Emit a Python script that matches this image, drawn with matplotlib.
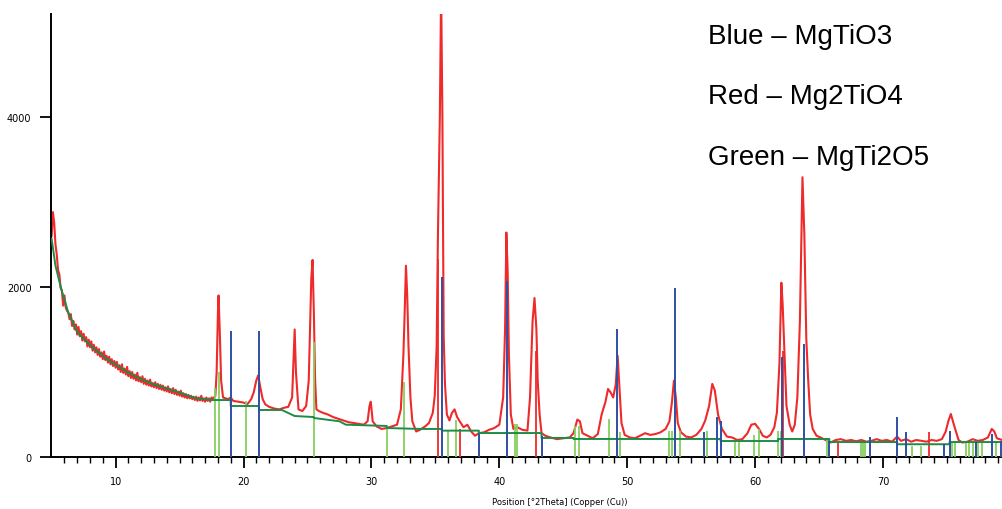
import matplotlib
matplotlib.use("Agg")
import matplotlib.pyplot as plt
import numpy as np

# zmierzony dyfraktogram (czerwony), czesc niskokatowa co 0.1 stopnia
low_x = np.round(np.arange(5.0, 17.75, 0.1), 1)
low_y = [2600, 2880, 2750, 2500, 2380, 2200, 2150, 1990, 1960, 1780,
         1900, 1760, 1720, 1700, 1620, 1680, 1540, 1600, 1500, 1560,
         1440, 1530, 1420, 1480, 1370, 1450, 1360, 1410, 1300, 1380,
         1290, 1360, 1250, 1320, 1230, 1290, 1200, 1270, 1180, 1230,
         1150, 1240, 1140, 1190, 1110, 1180, 1090, 1150, 1070, 1130,
         1050, 1120, 1030, 1080, 1000, 1090, 990, 1040, 970, 1060,
         950, 1010, 930, 1000, 920, 970, 900, 990, 890, 940,
         880, 950, 860, 920, 850, 900, 840, 910, 830, 870,
         820, 880, 810, 860, 800, 850, 790, 840, 780, 820,
         770, 830, 760, 800, 750, 810, 740, 790, 730, 770,
         720, 780, 710, 750, 700, 740, 690, 730, 690, 720,
         680, 710, 670, 710, 660, 700, 665, 720, 660, 690,
         650, 700, 660, 690, 650, 700, 680, 700]

high_x = [17.8, 17.9, 18.0, 18.05, 18.15, 18.25, 18.4, 18.6, 18.8, 19.0, 19.2, 19.6, 20.0,
          20.3, 20.6, 20.8, 21.0, 21.15, 21.3, 21.5, 21.7, 22.0, 22.4, 22.8, 23.2, 23.5, 23.8, 23.9,
          24.0, 24.1, 24.3, 24.6, 24.9, 25.1, 25.2, 25.3, 25.4, 25.5, 25.6, 25.7, 25.9, 26.2, 26.6,
          27.0, 27.4, 27.8, 28.2, 28.6, 29.0, 29.4, 29.7, 29.85, 29.95, 30.1, 30.4, 30.8, 31.2, 31.6,
          32.0, 32.3, 32.5, 32.6, 32.7, 32.8, 32.9, 33.05, 33.2, 33.5, 33.8, 34.2, 34.5, 34.8, 34.95,
          35.1, 35.2, 35.35, 35.45, 35.55, 35.65, 35.75, 35.9, 36.1, 36.3, 36.5, 36.7, 36.9, 37.2,
          37.5, 37.8, 38.1, 38.4, 38.8, 39.2, 39.6, 40.0, 40.3, 40.45, 40.55, 40.65, 40.75, 40.9,
          41.1, 41.4, 41.8, 42.2, 42.4, 42.6, 42.75, 42.9, 43.0, 43.15, 43.3, 43.6, 44.0, 44.5, 45.0,
          45.5, 45.8, 46.1, 46.3, 46.5, 46.9, 47.3, 47.7, 48.0, 48.3, 48.5, 48.7, 48.9, 49.1, 49.25,
          49.4, 49.55, 49.8, 50.2, 50.6, 51.0, 51.4, 51.8, 52.2, 52.6, 53.0, 53.3, 53.5, 53.65, 53.8,
          53.95, 54.2, 54.6, 55.0, 55.4, 55.8, 56.1, 56.4, 56.65, 56.85, 57.1, 57.4, 57.8, 58.2, 58.6,
          59.0, 59.4, 59.7, 60.0, 60.3, 60.6, 60.9, 61.2, 61.5, 61.7, 61.9, 62.05, 62.15, 62.3, 62.45,
          62.7, 62.9, 63.1, 63.3, 63.5, 63.7, 63.85, 64.0, 64.15, 64.3, 64.5, 64.8, 65.1, 65.5, 65.9,
          66.3, 66.7, 67.1, 67.5, 67.9, 68.3, 68.7, 69.1, 69.5, 69.9, 70.3, 70.7, 71.1, 71.4, 71.8,
          72.2, 72.6, 73.0, 73.4, 73.8, 74.2, 74.6, 74.9, 75.1, 75.3, 75.5, 75.7, 75.9, 76.2, 76.6,
          77.0, 77.4, 77.8, 78.2, 78.5, 78.7, 78.9, 79.3]
high_y = [720, 1000, 1700, 1900, 1450, 900, 700, 690, 680, 700, 660, 650, 640,
          620, 680, 760, 900, 960, 830, 680, 620, 590, 570, 560, 580, 590, 700, 1100,
          1500, 1000, 560, 540, 600, 900, 1500, 2100, 2318, 1700, 900, 560, 540, 520, 500,
          470, 450, 430, 410, 400, 390, 380, 420, 600, 650, 420, 360, 330, 340, 360,
          380, 560, 1200, 1700, 2250, 1900, 1300, 700, 420, 300, 320, 360, 400, 520, 720,
          1300, 2600, 4000, 5500, 4000, 1430, 860, 500, 430, 520, 560, 470, 420, 350,
          380, 300, 250, 280, 290, 320, 340, 380, 700, 1500, 2640, 2200, 1200, 500,
          330, 350, 320, 310, 700, 1600, 1870, 1500, 900, 500, 280, 250, 230, 210, 220,
          230, 280, 440, 420, 280, 250, 220, 270, 500, 650, 800, 760, 700, 850, 1190,
          800, 400, 260, 230, 220, 250, 280, 260, 270, 290, 330, 420, 650, 898, 700,
          400, 290, 240, 230, 260, 330, 430, 600, 860, 780, 500, 330, 240, 230, 200,
          210, 280, 380, 390, 330, 250, 230, 260, 350, 520, 1100, 2050, 1800, 1200, 600,
          380, 300, 380, 700, 1600, 3290, 2600, 1390, 900, 500, 330, 250, 230, 200, 170,
          200, 210, 190, 200, 185, 200, 180, 190, 210, 190, 200, 180, 240, 190, 210,
          180, 200, 190, 180, 200, 190, 210, 300, 420, 506, 400, 300, 200, 170, 180,
          210, 190, 200, 230, 330, 300, 220, 200]

# tlo (ciemnozielona linia)
bg_x = [5.0, 5.3, 5.75, 6.3, 7.0, 7.7, 8.35, 9.0, 9.66, 10.3, 10.9, 11.6, 12.3, 13.0, 13.6, 14.3,
        14.9, 15.6, 16.2, 17.0, 17.5, 19.0, 19.0, 21.2, 21.2, 23.0, 24.0, 25.5, 25.5, 27.5, 28.0,
        31.2, 31.2, 33.8, 35.5, 35.5, 38.4, 38.4, 43.3, 43.3, 45.8, 45.8, 57.3, 57.3, 61.8, 61.8,
        65.8, 65.8, 71.1, 71.1, 75.2, 75.2, 79.3]
bg_y = [2565, 2250, 1976, 1700, 1470, 1360, 1270, 1190, 1118, 1060, 1000, 945, 894, 855, 824, 790,
        765, 725, 694, 680, 670, 670, 600, 600, 553, 553, 482, 470, 459, 420, 380,
        365, 341, 330, 330, 310, 310, 282, 282, 224, 224, 212, 212, 188, 188, 212,
        212, 176, 176, 150, 150, 176, 176]

# linie wzorcowe
blue_pos = [19.0, 21.25, 35.55, 38.4, 40.6, 43.3, 49.2, 53.7, 56.0, 57.0, 57.3, 62.1, 63.8, 65.8,
            69.0, 71.1, 71.8, 74.8, 75.2, 77.3, 78.5, 79.2]
blue_h = [1486, 1486, 2118, 270, 2075, 250, 1506, 1985, 294, 470, 427, 1176, 1330, 190,
          235, 467, 290, 150, 310, 176, 270, 190]

red_pos = [35.2, 36.9, 42.9, 62.2, 66.5, 73.6]
red_h = [2330, 330, 1250, 1250, 176, 290]

green_pos = [17.8, 18.1, 20.2, 25.5, 31.2, 32.55, 36.0, 36.6, 41.2, 41.4, 45.9, 46.2, 48.6, 49.4,
             53.3, 53.5, 54.1, 56.25, 58.4, 58.7, 59.9, 60.3, 61.8, 62.0, 65.6, 68.3, 68.45, 68.6,
             72.3, 73.0, 75.4, 75.6, 76.5, 76.7, 77.0, 77.4, 77.7, 78.8]
green_h = [810, 1000, 660, 1349, 353, 882, 310, 430, 390, 390, 368, 368, 447, 294,
           300, 300, 300, 300, 176, 176, 260, 330, 300, 300, 212, 180, 180, 180,
           133, 133, 176, 176, 176, 176, 176, 176, 176, 176]

legenda = ["Blue \u2013 MgTiO3", "Red \u2013 Mg2TiO4", "Green \u2013 MgTi2O5"]

obs_x = np.concatenate([low_x, high_x])
obs_y = np.concatenate([low_y, high_y])

fig = plt.figure(figsize=(10.02, 5.10), dpi=100)
ax = fig.add_axes([51 / 1002, 52 / 510, 1 - 51 / 1002, 443 / 510])

ax.plot(obs_x, obs_y, color="#ee2a2a", lw=1.5, zorder=2)
ax.vlines(green_pos, 0, green_h, color="#86d05e", lw=1.3, zorder=3)
ax.vlines(red_pos, 0, red_h, color="#ee2a2a", lw=1.3, zorder=3)
ax.vlines(blue_pos, 0, blue_h, color="#2f4fa5", lw=1.4, zorder=4)
ax.plot(bg_x, bg_y, color="#1e8c48", lw=1.4, zorder=3)

ax.set_xlim(4.95, 79.3)
ax.set_ylim(0, 5210)
for s in ["top", "right"]:
    ax.spines[s].set_visible(False)
ax.spines["left"].set_linewidth(1.4)
ax.spines["bottom"].set_linewidth(1.4)

ax.set_yticks([0, 2000, 4000])
ax.set_xticks([10, 20, 30, 40, 50, 60, 70])
ax.set_xticks(np.arange(6, 80, 1), minor=True)
ax.tick_params(axis="both", which="major", length=8, width=1.3, labelsize=7, pad=6)
ax.tick_params(axis="x", which="minor", length=4, width=1.0)
ax.tick_params(axis="y", which="minor", length=0)

for i, t in enumerate(legenda):
    fig.text(708 / 1002, 1 - (37 + 60.5 * i) / 510, t, fontsize=20,
             family="Liberation Sans", va="center", ha="left")

fig.text(560 / 1002, 1 - 503 / 510, "Position [\u00b02Theta] (Copper (Cu))",
         fontsize=6, ha="center", va="center")

fig.savefig("out.png", dpi=100)
